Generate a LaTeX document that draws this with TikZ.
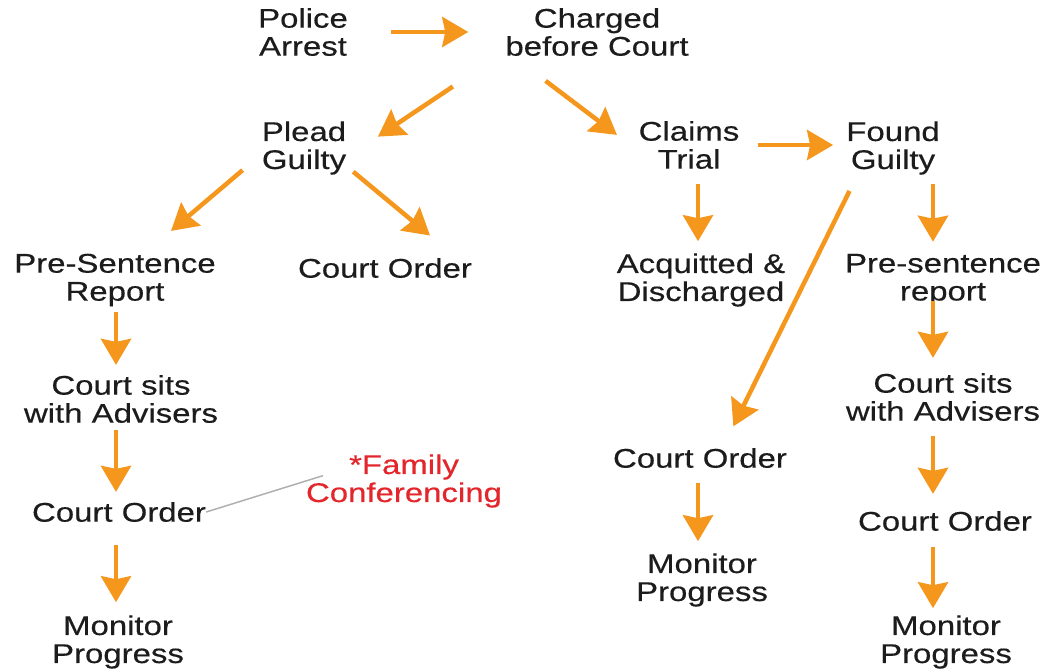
\documentclass[tikz,border=0pt]{standalone}
\usepackage{fontspec}
\setmainfont[FakeStretch=1.22,FakeBold=0.4]{Liberation Sans}
\usetikzlibrary{arrows.meta}
\definecolor{flowc}{HTML}{F5961D}
\definecolor{ink}{HTML}{1C1C1C}
\definecolor{note}{HTML}{E3262B}
\definecolor{link}{HTML}{B0B0B0}

\begin{document}
\begin{tikzpicture}[
  x=1pt, y=-1pt,
  font=\fontsize{27}{28}\selectfont,
  box/.style={text=ink, align=center, inner sep=0pt},
  flow/.style={draw=flowc, line width=4.5pt, -{Stealth[length=26pt,width=30pt,inset=3pt]}},
  >=Stealth
]
\useasboundingbox (0,0) rectangle (1055,670);

% arrow columns
\coordinate (colL) at (116,0);
\coordinate (colM) at (698,0);
\coordinate (colR) at (933,0);

\node[box] (police) at (303,32) {Police\\Arrest};
\node[box] (charged) at (597,32) {Charged\\before Court};

\node[box] (plead) at (304,148) {Plead\\Guilty};
\node[box] (claims) at (689,145) {Claims\\Trial};
\node[box] (found) at (893,148) {Found\\Guilty};

\node[box] (psr) at (115,280) {Pre-Sentence\\Report};
\node[box] (coA) at (385,268) {Court Order};
\node[box] (acq) at (701,280) {Acquitted \&\\Discharged};
\node[box] (psr2) at (943,280) {Pre-sentence\\report};

\node[box] (sitsL) at (121,399) {Court sits\\with Advisers};
\node[box] (sitsR) at (943,397) {Court sits\\with Advisers};

\node[box] (coL) at (119,512) {Court Order};
\node[box] (coM) at (700,458) {Court Order};
\node[box] (coR) at (945,521) {Court Order};

\node[box] (monL) at (118,642) {Monitor\\Progress};
\node[box] (monM) at (702,580) {Monitor\\Progress};
\node[box] (monR) at (946,642) {Monitor\\Progress};

\node[box, text=note] (fam) at (404,481) {*Family\\Conferencing};

% top of the flow
\draw[flow, shorten <=43pt, shorten >=37pt] (police.east) -- (charged.west);
\draw[flow, shorten <=63pt, shorten >=38pt] (charged.192) -- (plead.-13);
\draw[flow, shorten <=41pt, shorten >=27pt] (charged.196) -- (claims.187);
\draw[flow, shorten <=18pt, shorten >=13pt] (claims.east) -- (found.west |- claims.east);

% pleaded guilty
\draw[flow, shorten <=25pt, shorten >=35pt] (plead.188) -- (psr.42);
\draw[flow, shorten <=9pt, shorten >=35pt] (plead.-23) -- (coA.8);
\draw[flow, shorten <=6pt, shorten >=10pt] (psr.south -| colL) -- (sitsL.north -| colL);
\draw[flow, shorten <=7pt, shorten >=10pt] (sitsL.south -| colL) -- (coL.north -| colL);
\draw[flow, shorten <=23pt, shorten >=13pt] (coL.south -| colL) -- (monL.north -| colL);
\draw[draw=link, line width=1.5pt, shorten >=-18pt] (coL.east) -- (fam.west);

% trial
\draw[flow, shorten <=15pt, shorten >=12pt] (claims.south -| colM) -- (acq.north -| colM);
\draw[flow, shorten <=18pt, shorten >=24pt] (found.217) -- (coM.24);
\draw[flow, shorten <=15pt, shorten >=12pt] (coM.south -| colM) -- (monM.north -| colM);
\draw[flow, shorten <=9pt, shorten >=12pt] (found.south -| colR) -- (psr2.north -| colR);
\draw[flow, shorten <=-5pt, shorten >=15pt] (psr2.south -| colR) -- (sitsR.north -| colR);
\draw[flow, shorten <=15pt, shorten >=17pt] (sitsR.south -| colR) -- (coR.north -| colR);
\draw[flow, shorten <=16pt, shorten >=7pt] (coR.south -| colR) -- (monR.north -| colR);

\end{tikzpicture}
\end{document}
